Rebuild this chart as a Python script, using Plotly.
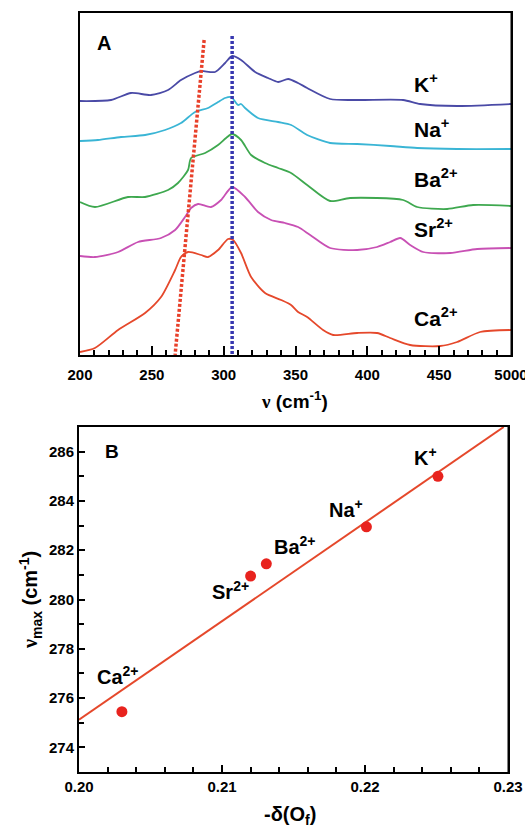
import plotly.graph_objects as go

# ---------------- Panel A data (wavenumber, offset intensity) ----------------
nu_K = [200, 221.6, 235.5, 249.4, 261.3, 270.3, 280.1, 284.3, 294.0, 301.0, 305.9, 312.1, 321.9, 330.9,
        337.9, 344.9, 351.8, 358.1, 374.1, 392.9, 424.9, 436.8, 462.5, 500]
I_K = [254, 255, 262, 260, 265, 275, 282, 284, 283, 292, 299, 295, 283, 277, 273, 276, 272, 267, 256, 255,
       255, 251, 249, 251]

nu_Na = [200, 212.5, 228.6, 245.3, 259.2, 270.3, 280.1, 289.1, 296.1, 301.0, 305.2, 310.0, 312.1, 314.9,
         323.9, 337.9, 347.0, 358.1, 374.1, 392.9, 415.9, 434.7, 462.5, 500]
I_Na = [214, 215, 218, 220, 225, 232, 243, 247, 253, 257, 258, 250, 251, 247, 237, 233, 230, 220, 212, 211,
        209, 207, 206, 206]

nu_Ba = [200, 210.4, 233.4, 245.3, 261.3, 268.2, 275.2, 277.3, 287.1, 296.1, 301.7, 305.9, 312.1, 319.1,
         328.8, 337.9, 346.9, 358.1, 374.1, 388.0, 424.9, 434.7, 455.6, 473.7, 500]
I_Ba = [153, 148, 158, 158, 165, 172, 185, 197, 202, 210, 217, 221, 215, 200, 192, 187, 182, 170, 154, 157,
        155, 148, 146, 150, 149]

nu_Sr = [200, 210.4, 226.5, 240.4, 256.4, 266.2, 273.1, 277.3, 282.2, 291.2, 298.2, 305.9, 314.9, 323.9,
         333.0, 342.7, 351.8, 360.2, 374.1, 392.9, 406.8, 415.9, 422.9, 429.8, 438.9, 457.7, 476.5, 500]
I_Sr = [99, 98, 103, 113, 117, 125, 138, 147, 151, 148, 155, 168, 158, 143, 135, 132, 128, 120, 107, 105,
        108, 113, 117, 110, 103, 102, 106, 107]

nu_Ca = [200, 210.4, 226.5, 245.3, 256.4, 266.2, 270.3, 275.2, 284.3, 289.1, 296.1, 303.1, 306.6, 312.1,
         319.1, 328.8, 340.0, 346.9, 351.8, 358.1, 369.2, 376.2, 392.9, 406.8, 415.9, 429.8, 450.7, 462.5,
         478.5, 500]
I_Ca = [3, 7, 25, 42, 58, 85, 98, 103, 100, 98, 105, 116, 115, 102, 78, 62, 55, 50, 43, 38, 25, 20, 22, 22,
        17, 10, 9, 13, 23, 25]

# guide lines (dotted)
red_guide_nu = [286.4, 266.2]
red_guide_I = [315, 0]
blue_guide_nu = [305.9, 305.9]
blue_guide_I = [319, 0]

spec_labels = ["K<sup>+</sup>", "Na<sup>+</sup>", "Ba<sup>2+</sup>", "Sr<sup>2+</sup>", "Ca<sup>2+</sup>"]
spec_label_y = [272, 227, 177, 127, 38]
spec_label_x = 431

# ---------------- Panel B data ----------------
ions_B = ["Ca<sup>2+</sup>", "Sr<sup>2+</sup>", "Ba<sup>2+</sup>", "Na<sup>+</sup>", "K<sup>+</sup>"]
delta_Of = [0.2030, 0.2120, 0.2131, 0.2201, 0.2251]
nu_max = [275.45, 280.95, 281.45, 282.95, 285.0]
lab_x = [0.2027, 0.2106, 0.2151, 0.2187, 0.2242]
lab_y = [276.9, 280.35, 282.2, 283.7, 285.8]
fit_x = [0.200, 0.2297]
fit_y = [275.12, 287.0]

c_K, c_Na, c_Ba, c_Sr, c_Ca = "#4A4AA6", "#3AB5D5", "#3EA84F", "#C850B4", "#E5482B"

W, H = 525, 827
A_box = (80, 511, 13, 355)    # left, right, top, bottom in pixels
B_box = (79, 508, 427, 772)

fig = go.Figure()
for xs, ys, c in [(nu_K, I_K, c_K), (nu_Na, I_Na, c_Na), (nu_Ba, I_Ba, c_Ba),
                  (nu_Sr, I_Sr, c_Sr), (nu_Ca, I_Ca, c_Ca)]:
    fig.add_trace(go.Scatter(x=xs, y=ys, mode="lines",
                             line=dict(color=c, width=1.8, shape="spline", smoothing=0.7),
                             xaxis="x", yaxis="y", showlegend=False, hoverinfo="skip"))
fig.add_trace(go.Scatter(x=red_guide_nu, y=red_guide_I, mode="lines",
                         line=dict(color="#E8402A", width=3.5, dash="3px,2px"),
                         xaxis="x", yaxis="y", showlegend=False))
fig.add_trace(go.Scatter(x=blue_guide_nu, y=blue_guide_I, mode="lines",
                         line=dict(color="#3838B0", width=3.5, dash="3px,2px"),
                         xaxis="x", yaxis="y", showlegend=False))

fig.add_trace(go.Scatter(x=fit_x, y=fit_y, mode="lines", line=dict(color="#E5482B", width=2),
                         xaxis="x2", yaxis="y2", showlegend=False))
fig.add_trace(go.Scatter(x=delta_Of, y=nu_max, mode="markers",
                         marker=dict(color="#E8231E", size=11),
                         xaxis="x2", yaxis="y2", showlegend=False))

bold = dict(family="Liberation Sans, Arial, sans-serif", color="black", weight="bold")

fig.update_layout(
    width=W, height=H, margin=dict(l=0, r=0, t=0, b=0, autoexpand=False),
    paper_bgcolor="white", plot_bgcolor="white", showlegend=False,
    xaxis=dict(domain=[A_box[0]/W, A_box[1]/W], anchor="y", range=[200, 500], automargin=False,
               tickvals=[200, 250, 300, 350, 400, 450, 500],
               ticktext=["200", "250", "300", "350", "400", "450", "5000"],
               ticklabeloverflow="allow", ticklabelstandoff=5,
               ticks="inside", ticklen=9, tickwidth=1.5, tickcolor="black",
               minor=dict(dtick=10, ticks="inside", ticklen=5, tickwidth=1.5, tickcolor="black"),
               showline=True, linecolor="black", linewidth=2, mirror=True,
               showgrid=False, zeroline=False, tickfont=dict(size=15, **bold)),
    yaxis=dict(domain=[1-A_box[3]/H, 1-A_box[2]/H], anchor="x", range=[0, 342], automargin=False,
               showticklabels=False, ticks="", showline=True, linecolor="black", linewidth=2,
               mirror=True, showgrid=False, zeroline=False),
    xaxis2=dict(domain=[B_box[0]/W, B_box[1]/W], anchor="y2", range=[0.20, 0.23], automargin=False,
                tickvals=[0.20, 0.21, 0.22, 0.23], ticktext=["0.20", "0.21", "0.22", "0.23"],
                ticklabeloverflow="allow",
                ticks="inside", ticklen=7, tickwidth=1.5, tickcolor="black",
                minor=dict(dtick=0.002, ticks="inside", ticklen=5, tickwidth=1.5, tickcolor="black"),
                showline=True, linecolor="black", linewidth=2, mirror=True,
                showgrid=False, zeroline=False, tickfont=dict(size=15, **bold)),
    yaxis2=dict(domain=[1-B_box[3]/H, 1-B_box[2]/H], anchor="x2", range=[273, 287], automargin=False,
                tickvals=[274, 276, 278, 280, 282, 284, 286],
                ticks="inside", ticklen=6, tickwidth=1.5, tickcolor="black",
                minor=dict(dtick=1, ticks="inside", ticklen=5, tickwidth=1.5, tickcolor="black"),
                showline=True, linecolor="black", linewidth=2, mirror=True,
                showgrid=False, zeroline=False, tickfont=dict(size=15, **bold)),
)

# explicit right-hand frame edges in paper coordinates (not clipped to the plot area)
shapes = []
for (l, r, t, b) in [A_box, B_box]:
    shapes.append(dict(type="line", xref="paper", yref="paper", x0=(r + 0.5)/W, x1=(r + 0.5)/W,
                       y0=1-(b + 1)/H, y1=1-(t - 1)/H, line=dict(color="black", width=2), layer="above"))
fig.update_layout(shapes=shapes)

ann = []
for t, y in zip(spec_labels, spec_label_y):
    ann.append(dict(x=spec_label_x, y=y, xref="x", yref="y", text=t, showarrow=False,
                    xanchor="left", yanchor="middle", font=dict(size=21, **bold)))
ann.append(dict(x=95/W, y=1-43/H, xref="paper", yref="paper", text="A", showarrow=False,
                xanchor="left", yanchor="middle", font=dict(size=20, **bold)))
for t, x, y in zip(ions_B, lab_x, lab_y):
    ann.append(dict(x=x, y=y, xref="x2", yref="y2", text=t, showarrow=False,
                    xanchor="center", yanchor="middle", font=dict(size=20, **bold)))
ann.append(dict(x=0.2017, y=286, xref="x2", yref="y2", text="B", showarrow=False,
                xanchor="left", yanchor="middle", font=dict(size=19, **bold)))
ann.append(dict(x=294/W, y=1-400/H, xref="paper", yref="paper",
                text="<span style='font-family:Liberation Serif'>ν</span> (cm<sup>-1</sup>)",
                showarrow=False, xanchor="center", yanchor="middle", font=dict(size=19, **bold)))
ann.append(dict(x=290/W, y=1-815/H, xref="paper", yref="paper",
                text="-δ(O<sub>f</sub>)", showarrow=False, xanchor="center", yanchor="middle",
                font=dict(size=20, **bold)))
ann.append(dict(x=30/W, y=1-600/H, xref="paper", yref="paper",
                text="<span style='font-family:Liberation Serif'>ν</span><sub>max</sub> (cm<sup>-1</sup>)",
                showarrow=False, xanchor="center", yanchor="middle", textangle=-90,
                font=dict(size=20, **bold)))
fig.update_layout(annotations=ann)

fig.write_html("out.html")
